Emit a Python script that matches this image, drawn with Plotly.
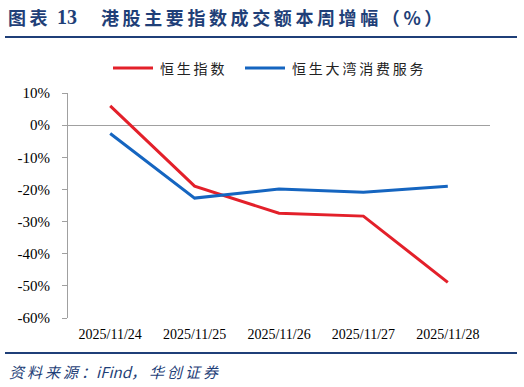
import plotly.graph_objects as go

dates = ["2025/11/24", "2025/11/25", "2025/11/26", "2025/11/27", "2025/11/28"]
hsi = [6.0, -19.0, -27.4, -28.3, -48.9]
hs_gba = [-2.6, -22.7, -19.9, -20.9, -19.0]
y_ticks = [10, 0, -10, -20, -30, -40, -50, -60]
names = ["恒生指数", "恒生大湾消费服务"]
colors = ["#E3202A", "#1565C0"]

W, H = 524, 387
L, R, T, B = 68, 490, 93, 318
NAVY = "#1F3F78"
THIN = "\u2009"

def px(x):
    return (x - L) / (R - L)

def py(y):
    return (B - y) / (B - T)

def spaced(s):
    return THIN.join(list(s))

fig = go.Figure()
for vals, nm, c in zip([hsi, hs_gba], names, colors):
    fig.add_trace(go.Scatter(x=dates, y=vals, mode="lines", name=nm, showlegend=False,
                             line=dict(color=c, width=3)))

fig.update_layout(
    width=W, height=H,
    margin=dict(l=L, r=W - R, t=T, b=H - B),
    paper_bgcolor="white", plot_bgcolor="white",
    showlegend=False,
    xaxis=dict(type="category", range=[-0.5, 4.5], showgrid=False, showline=False,
               ticks="", tickfont=dict(family="Liberation Serif", size=14, color="black"),
               zeroline=False, ticklabelstandoff=6),
    yaxis=dict(range=[-60, 10], tickvals=y_ticks, ticktext=[f"{v}%" for v in y_ticks],
               showgrid=False, showline=True, linecolor="#A0A0A0", linewidth=1,
               ticks="outside", ticklen=5, tickcolor="#A0A0A0",
               tickfont=dict(family="Liberation Serif", size=15, color="black"),
               ticklabelstandoff=9,
               zeroline=True, zerolinecolor="#A0A0A0", zerolinewidth=1),
)

# manual legend
leg = [(113, 153, 158), (245, 285, 290)]
for (x0, x1, tx), nm, c in zip(leg, names, colors):
    fig.add_shape(type="line", xref="paper", yref="paper", x0=px(x0), x1=px(x1),
                  y0=py(68), y1=py(68), line=dict(color=c, width=3))
    fig.add_annotation(x=px(tx), y=py(68), xref="paper", yref="paper", xanchor="left",
                       yanchor="middle", text=spaced(nm), showarrow=False,
                       font=dict(family="Noto Sans CJK SC", size=14, color="#222"))

# title
fig.add_annotation(x=px(6), y=py(17), xref="paper", yref="paper", xanchor="left", yanchor="middle",
                   text="<b>" + spaced("图表") + "</b>", showarrow=False,
                   font=dict(family="Noto Sans CJK SC", size=18, color=NAVY))
fig.add_annotation(x=px(55), y=py(17), xref="paper", yref="paper", xanchor="left", yanchor="middle",
                   text="<b>13</b>", showarrow=False,
                   font=dict(family="Liberation Serif", size=20, color=NAVY))
fig.add_annotation(x=px(99), y=py(17), xref="paper", yref="paper", xanchor="left", yanchor="middle",
                   text="<b>" + spaced("港股主要指数成交额本周增幅（%）") + "</b>", showarrow=False,
                   font=dict(family="Noto Sans CJK SC", size=18, color=NAVY))
fig.add_shape(type="line", xref="paper", yref="paper", x0=px(5), x1=px(517), y0=py(37), y1=py(37),
              line=dict(color=NAVY, width=2))
fig.add_shape(type="line", xref="paper", yref="paper", x0=px(5), x1=px(517), y0=py(353), y1=py(353),
              line=dict(color=NAVY, width=2))
fig.add_annotation(x=px(7), y=py(371), xref="paper", yref="paper", xanchor="left", yanchor="middle",
                   text="<i>" + spaced("资料来源：") + "iFind" + spaced("，华创证券") + "</i>",
                   showarrow=False,
                   font=dict(family="Noto Sans CJK SC", size=15, color=NAVY))

fig.write_html("out.html", config={"displayModeBar": False},
               post_script="document.body.style.margin='0';")
